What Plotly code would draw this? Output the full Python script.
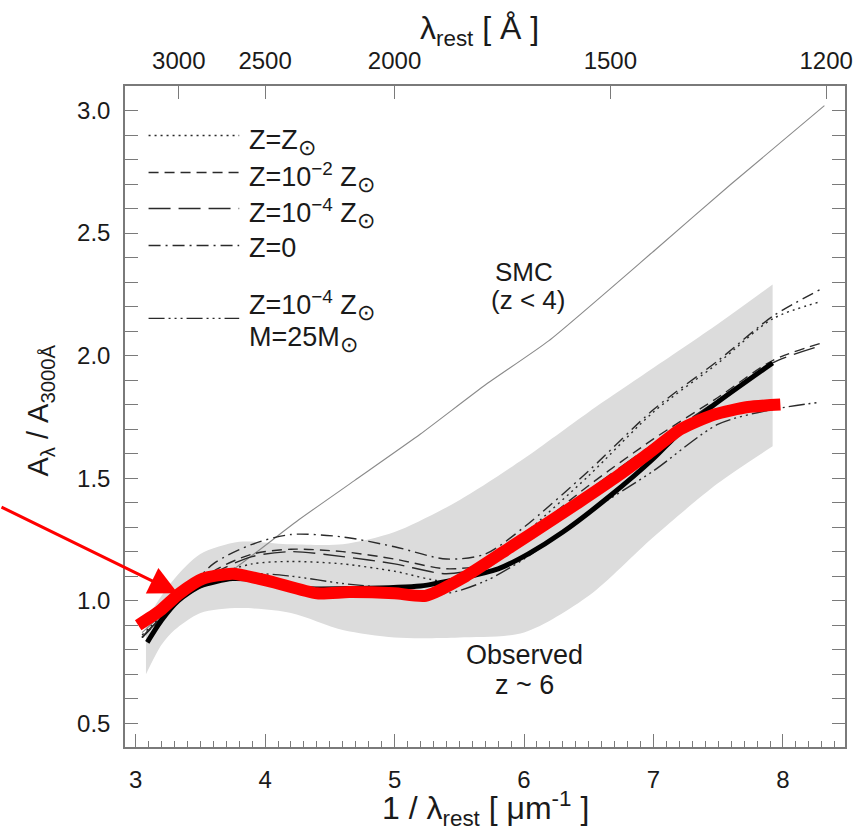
import plotly.graph_objects as go

# ---------------- data ----------------
# Observed (z~6) uncertainty band
band_x = [3.08, 3.2, 3.3, 3.5, 3.8, 4.2, 4.6, 5.0, 5.5, 6.0, 6.5, 7.0, 7.5, 7.92]
band_upper = [0.92, 1.02, 1.09, 1.19, 1.24, 1.23, 1.23, 1.28, 1.41, 1.58, 1.77, 1.95, 2.13, 2.29]
band_lower = [0.70, 0.82, 0.88, 0.95, 0.97, 0.95, 0.88, 0.85, 0.85, 0.87, 1.02, 1.26, 1.48, 1.63]

# SMC extinction curve
smc_x = [3.05, 3.33, 3.76, 4.26, 4.69, 5.2, 5.7, 6.19, 7.01, 7.6, 8.32]
smc_y = [0.87, 1.00, 1.13, 1.33, 1.49, 1.68, 1.88, 2.06, 2.43, 2.70, 3.02]

# Observed mean (thick black)
obs_x = [3.09, 3.2, 3.33, 3.5, 3.75, 4.0, 4.3, 4.7, 5.2, 5.5, 5.8, 6.03, 6.3, 6.67, 7.0, 7.19, 7.47, 7.92]
obs_y = [0.83, 0.92, 1.00, 1.06, 1.09, 1.08, 1.05, 1.05, 1.06, 1.09, 1.13, 1.19, 1.28, 1.43, 1.58, 1.68, 1.80, 1.97]

# Highlighted curve (thick red)
red_x = [3.02, 3.19, 3.34, 3.52, 3.75, 4.03, 4.4, 4.65, 5.0, 5.24, 5.55, 5.9, 6.19, 6.42, 6.7, 6.96, 7.21, 7.47, 7.73, 7.98]
red_y = [0.90, 0.96, 1.03, 1.09, 1.11, 1.08, 1.03, 1.035, 1.03, 1.02, 1.10, 1.22, 1.32, 1.40, 1.50, 1.60, 1.70, 1.76, 1.79, 1.80]

# Model curves
mod_x = [3.05, 3.33, 3.6, 3.9, 4.2, 4.6, 5.0, 5.4, 5.7, 6.0, 6.5, 7.0, 7.5, 7.92, 8.29]
mod_zsun = [0.86, 1.00, 1.10, 1.15, 1.16, 1.15, 1.12, 1.08, 1.13, 1.27, 1.51, 1.77, 1.97, 2.15, 2.22]
mod_z2 = [0.85, 1.00, 1.12, 1.19, 1.21, 1.20, 1.17, 1.13, 1.15, 1.26, 1.47, 1.66, 1.83, 1.98, 2.05]
mod_z4 = [0.85, 1.00, 1.11, 1.18, 1.20, 1.18, 1.15, 1.11, 1.14, 1.24, 1.45, 1.64, 1.82, 1.97, 2.04]
mod_z0 = [0.85, 1.00, 1.15, 1.23, 1.27, 1.26, 1.22, 1.17, 1.19, 1.30, 1.53, 1.78, 1.98, 2.16, 2.27]
mod_m25 = [0.85, 1.00, 1.08, 1.11, 1.10, 1.07, 1.05, 1.03, 1.08, 1.17, 1.36, 1.53, 1.72, 1.78, 1.81]

SUN = '<sub><span style="font-size:22px">⊙</span></sub>'
legend_labels = ["Z=Z" + SUN, "Z=10<sup>−2</sup> Z" + SUN, "Z=10<sup>−4</sup> Z" + SUN,
                 "Z=0", "Z=10<sup>−4</sup> Z" + SUN]
legend_extra = "M=25M" + SUN

# Top axis: rest wavelength in Angstrom
top_lambda = [3000, 2500, 2000, 1500, 1200]

# ---------------- figure ----------------
FONT = "Liberation Sans, Arial, Helvetica, sans-serif"
AX = "#7a7a7a"
TXT = "#1a1a1a"
MODEL_C = "#2a2a2a"

dash_zsun = "2px,4px"
dash_z2 = "10px,6px"
dash_z4 = "22px,8px"
dash_z0 = "12px,5px,2px,5px"
dash_m25 = "16px,4px,2px,4px,2px,4px,2px,4px"

fig = go.Figure()

fig.add_trace(go.Scatter(x=band_x, y=band_lower, mode="lines",
                         line=dict(width=0, color="#dcdcdc", shape="spline", smoothing=0.8),
                         hoverinfo="skip", showlegend=False))
fig.add_trace(go.Scatter(x=band_x, y=band_upper, mode="lines", fill="tonexty", fillcolor="#dcdcdc",
                         line=dict(width=0, color="#dcdcdc", shape="spline", smoothing=0.8),
                         hoverinfo="skip", showlegend=False))

fig.add_trace(go.Scatter(x=smc_x, y=smc_y, mode="lines",
                         line=dict(color="#8a8a8a", width=1.1, shape="spline", smoothing=0.5),
                         showlegend=False))

for ys, d in [(mod_zsun, dash_zsun), (mod_z2, dash_z2), (mod_z4, dash_z4),
              (mod_z0, dash_z0), (mod_m25, dash_m25)]:
    fig.add_trace(go.Scatter(x=mod_x, y=ys, mode="lines",
                             line=dict(color=MODEL_C, width=1.4, dash=d, shape="spline", smoothing=0.8),
                             showlegend=False))

fig.add_trace(go.Scatter(x=obs_x, y=obs_y, mode="lines",
                         line=dict(color="black", width=5, shape="spline", smoothing=0.7),
                         showlegend=False))

fig.add_trace(go.Scatter(x=red_x, y=red_y, mode="lines",
                         line=dict(color="#ff0000", width=12, shape="spline", smoothing=0.6),
                         showlegend=False))

# invisible trace to activate top axis
fig.add_trace(go.Scatter(x=[1e4 / top_lambda[0]], y=[1.0], xaxis="x2", mode="markers",
                         marker=dict(opacity=0), hoverinfo="skip", showlegend=False))

XR = [2.918, 8.479]
YR = [0.403, 3.10]

fig.update_layout(
    width=865, height=830,
    margin=dict(l=125, r=17, t=86, b=83),
    paper_bgcolor="white", plot_bgcolor="white",
    font=dict(family=FONT, size=24, color=TXT),
    showlegend=False,
    xaxis=dict(range=XR, tickmode="linear", tick0=3, dtick=1,
               ticks="inside", ticklen=13, tickwidth=1.3, tickcolor=AX,
               showline=True, linecolor=AX, linewidth=1.5, mirror=False,
               showgrid=False, zeroline=False, ticklabelstandoff=10,
               tickfont=dict(size=24, color=TXT),
               minor=dict(tick0=3, dtick=0.1, ticks="inside", ticklen=6, tickwidth=1.1,
                          tickcolor=AX, showgrid=False)),
    xaxis2=dict(range=XR, overlaying="x", side="top", anchor="y",
                tickmode="array", tickvals=[1e4 / l for l in top_lambda],
                ticktext=[str(l) for l in top_lambda],
                ticks="inside", ticklen=13, tickwidth=1.3, tickcolor=AX,
                showline=True, linecolor=AX, linewidth=1.5,
                showgrid=False, zeroline=False, ticklabelstandoff=6,
                tickfont=dict(size=24, color=TXT)),
    yaxis=dict(range=YR, tickmode="linear", tick0=0.5, dtick=0.5, tickformat=".1f",
               ticks="inside", ticklen=13, tickwidth=1.3, tickcolor=AX,
               showline=True, linecolor=AX, linewidth=1.5, mirror="allticks",
               showgrid=False, zeroline=False, ticklabelstandoff=8,
               tickfont=dict(size=24, color=TXT),
               minor=dict(tick0=0.5, dtick=0.1, ticks="inside", ticklen=7, tickwidth=1.1,
                          tickcolor=AX, showgrid=False)),
)

# axis titles as annotations
fig.add_annotation(text="1 / λ<sub>rest</sub> [ μm<sup>-1</sup> ]", xref="paper", yref="paper",
                   x=0.5, y=-0.093, xanchor="center", yanchor="middle", showarrow=False,
                   font=dict(size=32, color=TXT))
fig.add_annotation(text="λ<sub>rest</sub> [ Å ]", xref="paper", yref="paper",
                   x=0.492, y=1.084, xanchor="center", yanchor="middle", showarrow=False,
                   font=dict(size=32, color=TXT))
fig.add_annotation(text="A<sub>λ</sub> / A<sub>3000Å</sub>", xref="paper", yref="paper",
                   x=-0.118, y=0.509, xanchor="center", yanchor="middle", textangle=-90,
                   showarrow=False, font=dict(size=29, color=TXT))

# in-plot labels
fig.add_annotation(text="SMC", x=6.0, y=2.34, showarrow=False, font=dict(size=26, color=TXT))
fig.add_annotation(text="(z < 4)", x=6.03, y=2.225, showarrow=False, font=dict(size=26, color=TXT))
fig.add_annotation(text="Observed", x=6.0, y=0.78, showarrow=False, font=dict(size=27, color=TXT))
fig.add_annotation(text="z ~ 6", x=6.0, y=0.655, showarrow=False, font=dict(size=27, color=TXT))

# manual legend
leg_line_y = [2.898, 2.747, 2.600, 2.449, 2.152]
leg_text_y = [2.87, 2.727, 2.58, 2.437, 2.205]
leg_dash = [dash_zsun, dash_z2, dash_z4, dash_z0, dash_m25]
for ly, ty, d, lab in zip(leg_line_y, leg_text_y, leg_dash, legend_labels):
    fig.add_shape(type="line", xref="x", yref="y", x0=3.10, x1=3.80, y0=ly, y1=ly,
                  line=dict(color=MODEL_C, width=1.4, dash=d))
    fig.add_annotation(text=lab, x=3.86, y=ty, xanchor="left", yanchor="middle",
                       showarrow=False, font=dict(size=27, color=TXT))
fig.add_annotation(text=legend_extra, x=3.86, y=2.065, xanchor="left", yanchor="middle",
                   showarrow=False, font=dict(size=27, color=TXT))

# red arrow
fig.add_annotation(text="", x=3.325, y=1.03, ax=-180, ay=-87, axref="pixel", ayref="pixel",
                   showarrow=True, arrowhead=2, arrowsize=1.9, arrowwidth=3,
                   arrowcolor="#ff0000", standoff=0)

fig.write_html("out.html")
